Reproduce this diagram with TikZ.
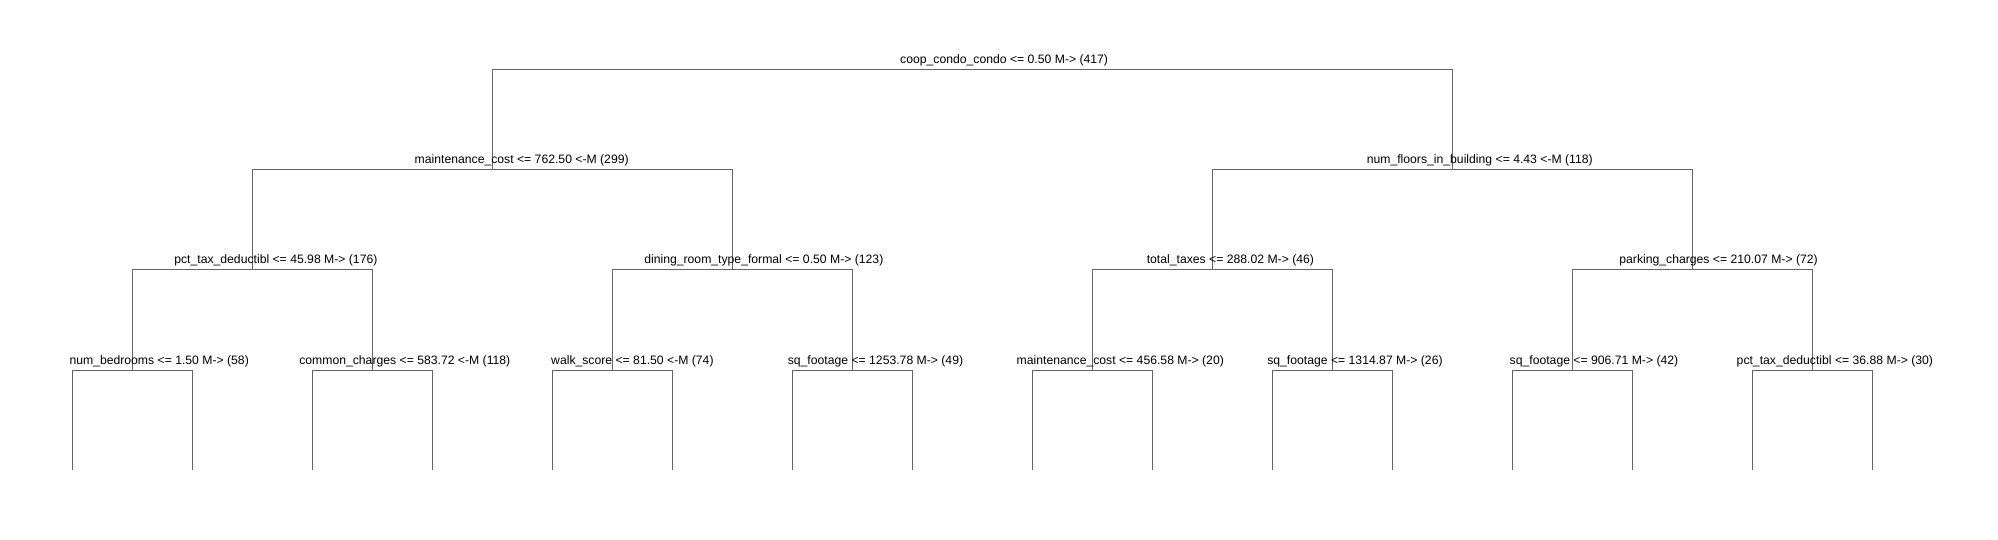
\documentclass[tikz,border=0pt]{standalone}
\usepackage{fontspec}
\setmainfont{Liberation Sans}
\definecolor{treegray}{RGB}{100,100,100}
\begin{document}
\begin{tikzpicture}[x=1pt,y=-1pt,
  edge/.style={draw=treegray, line width=1pt},
  lbl/.style={anchor=base west, inner sep=0pt, text=black, font=\fontsize{12.2}{14}\selectfont}]
\useasboundingbox (0,0) rectangle (1998,540);
\fill[white] (0,0) rectangle (1998,540);
% leaves
\coordinate (l0) at (72.6,470);
\coordinate (l1) at (192.6,470);
\coordinate (l2) at (312.6,470);
\coordinate (l3) at (432.5,470);
\coordinate (l4) at (552.5,470);
\coordinate (l5) at (672.5,470);
\coordinate (l6) at (792.5,470);
\coordinate (l7) at (912.5,470);
\coordinate (l8) at (1032.4,470);
\coordinate (l9) at (1152.4,470);
\coordinate (l10) at (1272.4,470);
\coordinate (l11) at (1392.4,470);
\coordinate (l12) at (1512.4,470);
\coordinate (l13) at (1632.3,470);
\coordinate (l14) at (1752.3,470);
\coordinate (l15) at (1872.3,470);
% level 4
\coordinate (a0) at (132.6,370);
\coordinate (a1) at (372.55,370);
\coordinate (a2) at (612.5,370);
\coordinate (a3) at (852.5,370);
\coordinate (a4) at (1092.4,370);
\coordinate (a5) at (1332.4,370);
\coordinate (a6) at (1572.35,370);
\coordinate (a7) at (1812.3,370);
% level 3
\coordinate (b0) at (252.6,270);
\coordinate (b1) at (732.5,270);
\coordinate (b2) at (1212.4,270);
\coordinate (b3) at (1692.3,270);
% level 2
\coordinate (c0) at (492.55,170);
\coordinate (c1) at (1452.35,170);
% root
\coordinate (r) at (972.45,70);
% edges
\foreach \p/\c in {r/c0,r/c1,c0/b0,c0/b1,c1/b2,c1/b3,
  b0/a0,b0/a1,b1/a2,b1/a3,b2/a4,b2/a5,b3/a6,b3/a7,
  a0/l0,a0/l1,a1/l2,a1/l3,a2/l4,a2/l5,a3/l6,a3/l7,
  a4/l8,a4/l9,a5/l10,a5/l11,a6/l12,a6/l13,a7/l14,a7/l15}
  \draw[edge] (\p) -| (\c);
% labels
\node[lbl] (tr) at (900,64) {coop\_condo\_condo <= 0.50 M-> (417)};
\node[lbl] (tc0) at (414.5,164) {maintenance\_cost <= 762.50 <-M (299)};
\node[lbl] (tc1) at (1366.6,164) {num\_floors\_in\_building <= 4.43 <-M (118)};
\node[lbl] (tb0) at (174.1,264) {pct\_tax\_deductibl <= 45.98 M-> (176)};
\node[lbl] (tb1) at (644.1,264) {dining\_room\_type\_formal <= 0.50 M-> (123)};
\node[lbl] (tb2) at (1146.6,264) {total\_taxes <= 288.02 M-> (46)};
\node[lbl] (tb3) at (1619.2,264) {parking\_charges <= 210.07 M-> (72)};
\node[lbl] (ta0) at (69.3,364) {num\_bedrooms <= 1.50 M-> (58)};
\node[lbl] (ta1) at (299.1,364) {common\_charges <= 583.72 <-M (118)};
\node[lbl] (ta2) at (551,364) {walk\_score <= 81.50 <-M (74)};
\node[lbl] (ta3) at (787.6,364) {sq\_footage <= 1253.78 M-> (49)};
\node[lbl] (ta4) at (1016.5,364) {maintenance\_cost <= 456.58 M-> (20)};
\node[lbl] (ta5) at (1267.1,364) {sq\_footage <= 1314.87 M-> (26)};
\node[lbl] (ta6) at (1509.5,364) {sq\_footage <= 906.71 M-> (42)};
\node[lbl] (ta7) at (1736.5,364) {pct\_tax\_deductibl <= 36.88 M-> (30)};
\end{tikzpicture}
\end{document}
